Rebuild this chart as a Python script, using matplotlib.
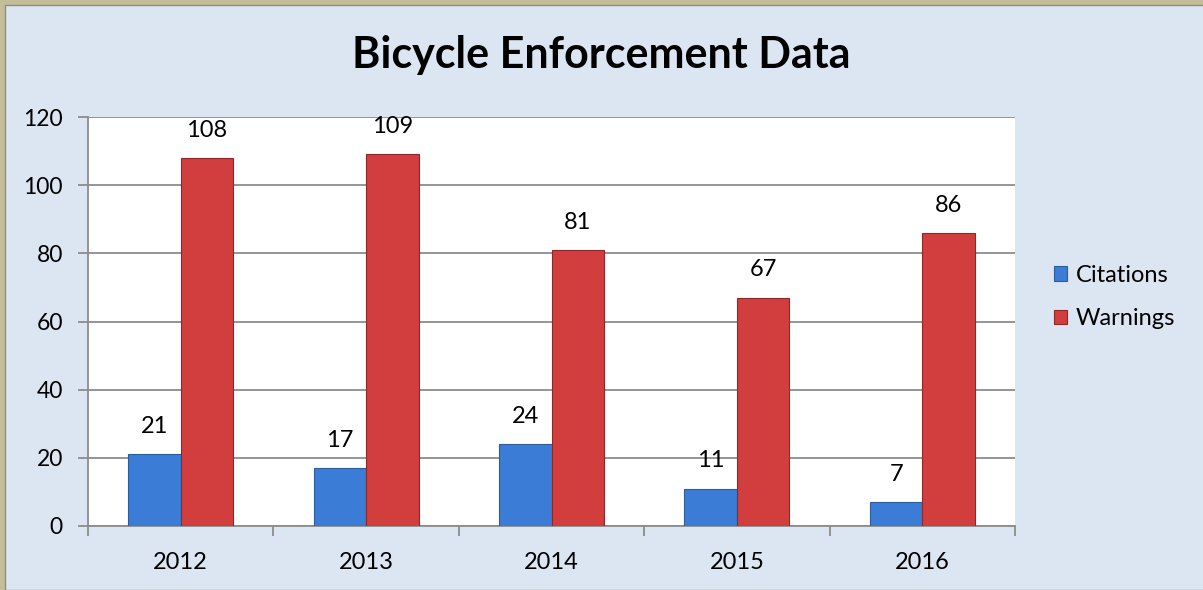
import matplotlib.pyplot as plt
from matplotlib.patches import Rectangle
import numpy as np

years = ['2012', '2013', '2014', '2015', '2016']
citations = [21, 17, 24, 11, 7]
warnings = [108, 109, 81, 67, 86]

plt.rcParams['font.family'] = ['Lato', 'DejaVu Sans']

fig = plt.figure(figsize=(12.03, 5.90), dpi=100)
fig.patch.set_facecolor('#c4bd97')
# light blue chart area with thin grey edge, tan strip on left/top
fig.patches.append(Rectangle((5 / 1203, 0), 1, 1 - 5 / 590, transform=fig.transFigure,
                             facecolor='#dce6f2', edgecolor='#8c8c8c', linewidth=1, zorder=-10))

ax = fig.add_axes([88 / 1203, 64 / 590, (1015 - 88) / 1203, (526 - 117) / 590])
ax.set_facecolor('white')

x = np.arange(len(years))
w = 0.283
b1 = ax.bar(x - w / 2, citations, w, color='#3b7dd6', edgecolor='#2b5d9e', linewidth=0.8, zorder=3)
b2 = ax.bar(x + w / 2, warnings, w, color='#d23e3e', edgecolor='#8e2727', linewidth=0.8, zorder=3)

for bars, vals in ((b1, citations), (b2, warnings)):
    for r, v in zip(bars, vals):
        ax.annotate(str(v), (r.get_x() + r.get_width() / 2, v), xytext=(0, 20),
                    textcoords='offset points', ha='center', va='center', fontsize=17)

ax.set_ylim(0, 120)
ax.set_yticks(range(0, 121, 20))
ax.set_xlim(-0.5, 4.5)
ax.set_xticks(x)
ax.set_xticklabels(years)
ax.set_xticks(np.arange(-0.5, 5, 1), minor=True)
ax.tick_params(axis='x', which='major', length=0, pad=19, labelsize=17)
ax.tick_params(axis='x', which='minor', length=7, width=1.3, color='#8c8c8c', direction='out')
ax.tick_params(axis='y', length=7, width=1.3, color='#8c8c8c', pad=11, labelsize=16.5)
ax.grid(axis='y', color='#8c8c8c', linewidth=1.3, zorder=0)
ax.set_axisbelow(True)
for s in ('top', 'right'):
    ax.spines[s].set_visible(False)
for s in ('left', 'bottom'):
    ax.spines[s].set_color('#8c8c8c')
    ax.spines[s].set_linewidth(1.3)

fig.text(0.5, 1 - 55 / 590, 'Bicycle Enforcement Data', ha='center', va='center',
         fontsize=31, fontweight='bold')

fig.legend([b1, b2], ['Citations', 'Warnings'], loc='center left',
           bbox_to_anchor=(1033 / 1203, 1 - 297 / 590), frameon=False, fontsize=17,
           handlelength=0.55, handleheight=0.55, handletextpad=0.35, labelspacing=0.95)

fig.savefig('out.png', dpi=100, facecolor=fig.get_facecolor())
